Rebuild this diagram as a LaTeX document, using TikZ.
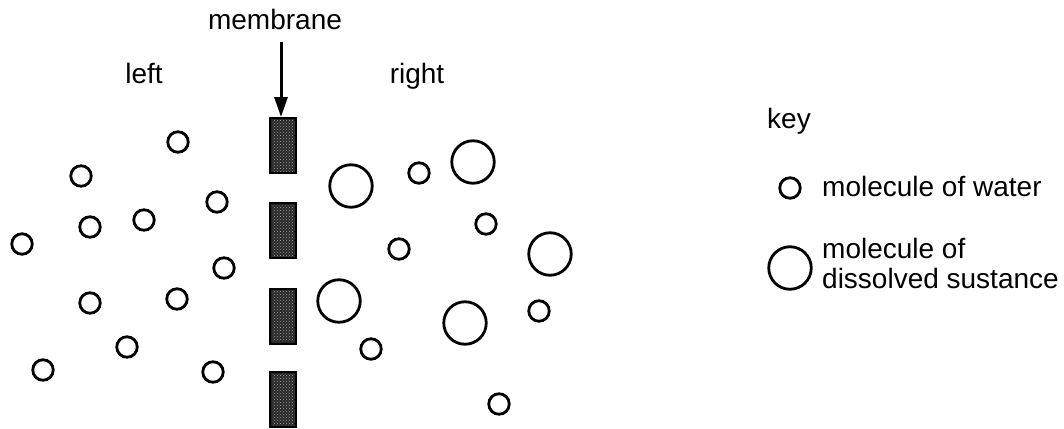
\documentclass[tikz,border=0pt]{standalone}
\usepackage{fontspec}
\setmainfont{Liberation Sans}
\usetikzlibrary{arrows.meta,patterns}
\tikzset{
  lbl/.style={font=\fontsize{28}{32}\selectfont, inner sep=0pt, anchor=base},
  keylbl/.style={font=\fontsize{28}{32}\selectfont, inner sep=0pt, anchor=base west},
  water/.style={circle, draw=black, line width=2.8pt, minimum size=20.5pt, inner sep=0pt},
  solute/.style={circle, draw=black, line width=2.8pt, minimum size=42.5pt, inner sep=0pt},
  memblock/.style={draw=black, line width=2pt, fill=black!85, minimum width=26pt, minimum height=55pt, inner sep=0pt},
}
\begin{document}
\begin{tikzpicture}[x=1pt,y=-1pt]
\useasboundingbox (0,0) rectangle (1064,428);
% labels
\node[lbl] (mem) at (275,30) {membrane};
\node[lbl] (lft) at (144,83) {left};
\node[lbl] (rgt) at (417,83) {right};
\node[lbl] (key) at (789,128) {key};
% membrane blocks
\foreach \n/\y in {1/145.5,2/230.5,3/316,4/399.5}{
  \node[memblock] (b\n) at (283,\y) {};
  \fill[pattern=crosshatch dots, pattern color=black!35] ([xshift=3pt,yshift=-3pt]b\n.north west) rectangle ([xshift=-3pt,yshift=3pt]b\n.south east);
}
\coordinate (astart) at (281,42);
\draw[line width=3pt, -{Triangle[length=20pt,width=13pt]}] (astart) -- (b1.north -| astart);
% left water molecules
\foreach \n/\x/\y in {1/178/142,2/81/176,3/217/202,4/90/227,5/144/220,6/22/244,7/224/268,8/90/303,9/177/299,10/127/347,11/43/370,12/213/372}{
  \node[water] (lw\n) at (\x,\y) {};
}
% right solute molecules
\foreach \n/\x/\y in {1/351/186,2/473/162,3/550/254,4/339/301,5/465/323}{
  \node[solute] (rs\n) at (\x,\y) {};
}
% right water molecules
\foreach \n/\x/\y in {1/419/173,2/486/224,3/399/249,4/539/311,5/371/349,6/499/404}{
  \node[water] (rw\n) at (\x,\y) {};
}
% key
\node[water] (kw) at (790,188) {};
\node[keylbl] (kwt) at (822,196) {molecule of water};
\node[solute] (ks) at (790,268) {};
\node[keylbl] (kst1) at (822,258) {molecule of};
\node[keylbl] (kst2) at (822,288) {dissolved sustance};
\end{tikzpicture}
\end{document}
